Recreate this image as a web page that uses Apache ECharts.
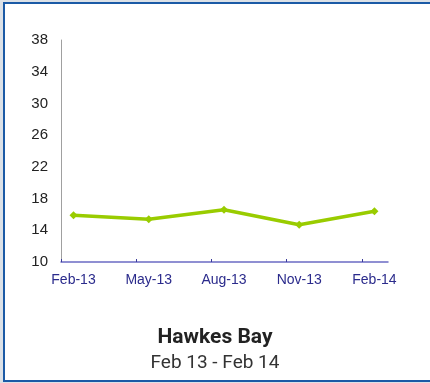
<!DOCTYPE html>
<html>
<head>
<meta charset="utf-8">
<script src="https://cdn.jsdelivr.net/npm/echarts@6/dist/echarts.min.js"></script>
<style>
  html, body { margin: 0; padding: 0; background: #dce1e7; }
  .frame {
    position: absolute; left: 3px; top: 2px; width: 440px; height: 376px;
    background: #fff;
    border: 2px solid #1b5aa6; border-right: none;
  }
  #chart { position: absolute; left: 0; top: 0; width: 430px; height: 383px; }
</style>
</head>
<body>
<div class="frame"></div>
<div id="chart"></div>
<script>
const months = ['Feb-13', 'May-13', 'Aug-13', 'Nov-13', 'Feb-14']
const values = [15.9, 15.4, 16.6, 14.7, 16.4]
const yTicks = [10, 14, 18, 22, 26, 30, 34, 38]

const chart = echarts.init(document.getElementById('chart'))

// x is a value axis so the ticks can sit a bit left of each point, like the original
const tickOffset = -0.166

chart.setOption({
  backgroundColor: 'transparent',
  animation: false,
  title: {
    text: 'Hawkes Bay',
    subtext: 'Feb 13 - Feb 14',
    left: 'center',
    top: 322,
    itemGap: 6,
    textStyle: {
      fontFamily: 'Roboto, sans-serif',
      fontWeight: 'bold',
      fontSize: 21,
      color: '#222'
    },
    subtextStyle: {
      fontFamily: 'Roboto, sans-serif',
      fontSize: 19,
      color: '#333'
    }
  },
  grid: { left: 61, right: 42, top: 40, bottom: 121, containLabel: false },
  xAxis: {
    type: 'value',
    min: tickOffset,
    max: 4.18,
    axisLine: { lineStyle: { color: '#6b6bc4', width: 1.5 } },
    axisTick: {
      show: true,
      inside: true,
      length: 3,
      customValues: months.map((m, i) => i + tickOffset),
      lineStyle: { color: '#3a3a9a' }
    },
    axisLabel: {
      customValues: months.map((m, i) => i),
      formatter: v => months[Math.round(v)],
      color: '#2b2b8c',
      fontFamily: 'Liberation Sans, Arial, sans-serif',
      fontSize: 14,
      margin: 11
    },
    splitLine: { show: false }
  },
  yAxis: {
    type: 'value',
    min: yTicks[0],
    max: yTicks[yTicks.length - 1],
    interval: 4,
    axisLine: { show: true, onZero: false, lineStyle: { color: '#a0a0a0', width: 1 } },
    axisTick: { show: false },
    axisLabel: {
      color: '#222',
      fontFamily: 'Liberation Sans, Arial, sans-serif',
      fontSize: 15,
      margin: 13
    },
    splitLine: { show: false }
  },
  series: [{
    type: 'line',
    data: values.map((v, i) => [i, v]),
    symbol: 'diamond',
    symbolSize: 8,
    lineStyle: { color: '#99cc00', width: 3.5 },
    itemStyle: { color: '#99cc00' }
  }]
})
</script>
</body>
</html>
